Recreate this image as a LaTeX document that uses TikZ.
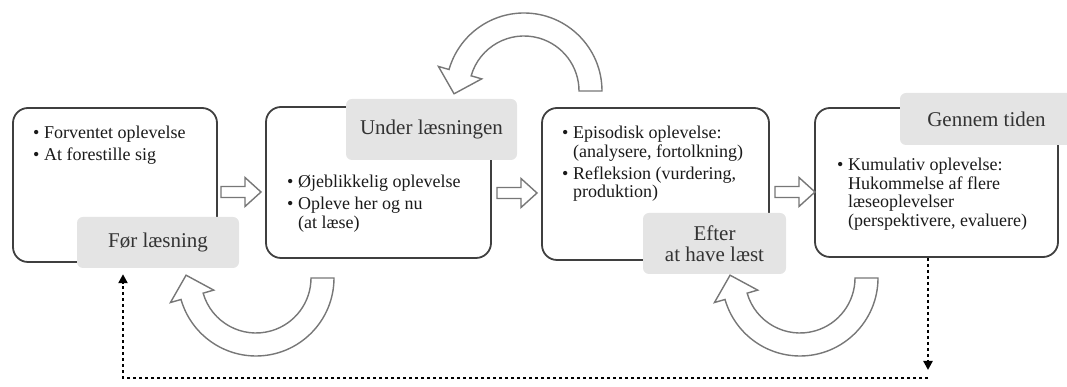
\documentclass[tikz,border=0pt]{standalone}
\usepackage{fontspec}
\setmainfont{Liberation Serif}
\usetikzlibrary{arrows.meta,calc}
\definecolor{boxline}{HTML}{3F3F3F}
\definecolor{labfill}{HTML}{E4E4E4}
\definecolor{labtxt}{HTML}{333333}
\definecolor{arrline}{HTML}{777777}
\definecolor{txt}{HTML}{1A1A1A}
\newcommand\bul[1]{\makebox[11pt][l]{•}#1}
\newcommand\cont[1]{\hspace*{11pt}#1}
\newcommand\harrow[2]{\draw[barrow] ($(#1)+(0,-5.5)$) -- ($(#2)+(-16,-5.5)$) -- ($(#2)+(-16,-14.5)$) -- (#2) -- ($(#2)+(-16,14.5)$) -- ($(#2)+(-16,5.5)$) -- ($(#1)+(0,5.5)$) -- cycle;}
\newcommand\carrow[2]{\draw[barrow] ($(#1)+(0:78)$) arc[start angle=0, end angle=#2*164, radius=78] -- ($(#1)+(#2*164:89)$) -- ($(#1)+(#2*182.3:70)$) -- ($(#1)+(#2*164:44)$) -- ($(#1)+(#2*164:55)$) arc[start angle=#2*164, end angle=0, radius=55] -- cycle;}
\begin{document}
\begin{tikzpicture}[x=1pt,y=1pt,
  box/.style={draw=boxline, line width=1.8pt, rounded corners=15pt, fill=white, inner sep=0pt},
  lab/.style={fill=labfill, rounded corners=6pt, text=labtxt, font=\fontsize{21}{23}\selectfont, align=center, inner sep=0pt},
  btxt/.style={anchor=north west, align=left, inner sep=0pt, text=txt, font=\fontsize{18}{18.5}\selectfont},
  barrow/.style={draw=arrline, fill=white, line width=1.4pt, line join=miter},
  dots/.style={line width=2.8pt, dash pattern=on 2.8pt off 3.2pt, black},
  tip/.style={-{Triangle[width=9pt,length=9pt]}}
]
\useasboundingbox (0,0) rectangle (1067,387);
\clip (0,0) rectangle (1067,387);
% boxes
\node[box, minimum width=204pt, minimum height=154pt] (b1) at (115,202) {};
\node[box, minimum width=225pt, minimum height=151pt] (b2) at (378.5,204.5) {};
\node[box, minimum width=227pt, minimum height=152pt] (b3) at (655.5,203) {};
\node[box, minimum width=243pt, minimum height=149pt] (b4) at (936.5,204.5) {};
% horizontal block arrows
\coordinate (a1s) at (221,195); \coordinate (a1e) at (261,195);
\coordinate (a2s) at (497,194); \coordinate (a2e) at (537,194);
\coordinate (a3s) at (775,195); \coordinate (a3e) at (815,195);
\harrow{a1s}{a1e}
\harrow{a2s}{a2e}
\harrow{a3s}{a3e}
% curved block arrows
\coordinate (ctop) at (524,296);
\coordinate (cb2) at (256,109);
\coordinate (cb3) at (800,109);
\carrow{ctop}{1}
\carrow{cb2}{-1}
\carrow{cb3}{-1}
% labels
\node[lab, minimum width=162pt, minimum height=51pt] (l1) at (158,144.5) {Før læsning};
\node[lab, minimum width=171pt, minimum height=61pt] (l2) at (431.5,257.5) {Under læsningen};
\node[lab, minimum width=143pt, minimum height=61pt] (l3) at (714.5,143.5) {Efter\\[-2pt]at have læst};
\node[lab, minimum width=173pt, minimum height=52pt] (l4) at (986.5,268) {Gennem tiden};
% bullet texts
\node[btxt] (t1) at (33,261) {\bul{Forventet oplevelse}\\[3.5pt]\bul{At forestille sig}};
\node[btxt] (t2) at (287,212) {\bul{Øjeblikkelig oplevelse}\\[3.5pt]\bul{Opleve her og nu}\\\cont{(at læse)}};
\node[btxt] (t3) at (562,261) {\bul{Episodisk oplevelse:}\\\cont{(analysere, fortolkning)}\\[3.5pt]\bul{Refleksion (vurdering,}\\\cont{produktion)}};
\node[btxt] (t4) at (837,229) {\bul{Kumulativ oplevelse:}\\\cont{Hukommelse af flere}\\\cont{læseoplevelser}\\\cont{(perspektivere, evaluere)}};
% dotted feedback connector
\coordinate (dR) at (928,9);
\coordinate (dL) at (123,9);
\draw[dots, tip] (b4.south -| dR) -- ($(dR)+(0,8)$);
\draw[dots, tip] (dR) -- (dL) -- ($(l1.south -| dL)+(0,-6)$);
\end{tikzpicture}
\end{document}
